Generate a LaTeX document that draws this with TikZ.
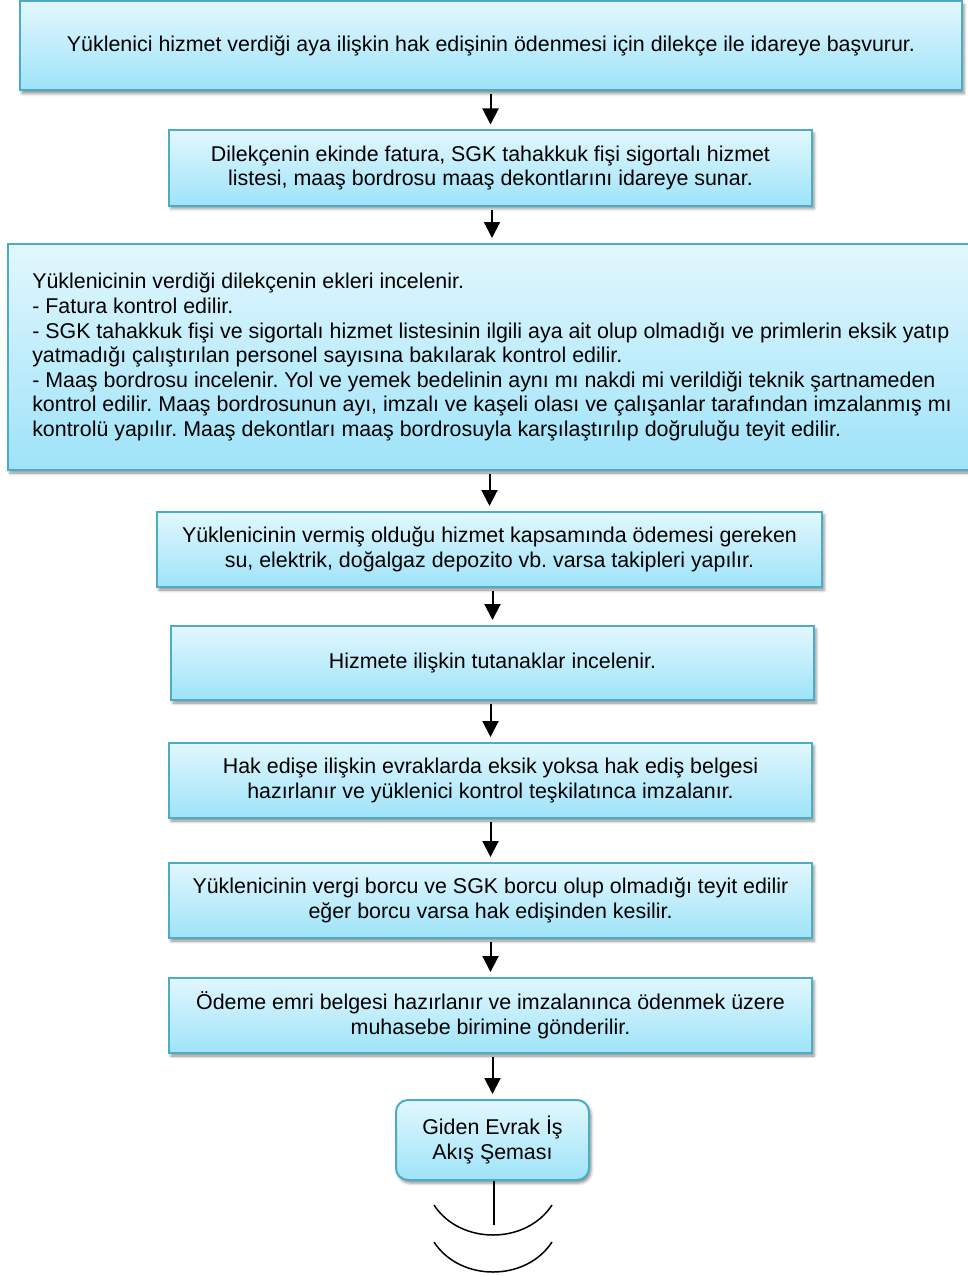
\documentclass[tikz,border=0pt]{standalone}
\usepackage{fontspec}
\setmainfont{Liberation Sans}
\usetikzlibrary{arrows.meta,shadows.blur}
\definecolor{boxline}{RGB}{75,172,198}
\definecolor{boxtop}{RGB}{226,247,253}
\definecolor{boxbot}{RGB}{158,227,249}
\frenchspacing
\begin{document}
\begin{tikzpicture}[x=1pt,y=-1pt,
box/.style={draw=boxline,line width=2pt,top color=boxtop,bottom color=boxbot,
blur shadow={shadow xshift=2pt,shadow yshift=-3pt,shadow blur radius=3pt,shadow opacity=45},
font=\fontsize{21.4}{24.6}\selectfont,align=center,inner sep=0pt,minimum width=643pt,minimum height=75pt},
arr/.style={-{Triangle[width=16pt,length=16pt]},line width=2pt,shorten <=3pt,shorten >=5pt}]
\useasboundingbox(0,0)rectangle(968,1276);
\node[box,minimum width=942pt,minimum height=89pt](b1)at(491,46){Yüklenici hizmet verdiği aya ilişkin hak edişinin ödenmesi için dilekçe ile idareye başvurur.};
\node[box](b2)at(490.5,168){Dilekçenin ekinde fatura, SGK tahakkuk fişi sigortalı hizmet\\listesi, maaş bordrosu maaş dekontlarını idareye sunar.};
\node[box,minimum width=968pt,minimum height=226pt,align=left](b3)at(492,357){Yüklenicinin verdiği dilekçenin ekleri incelenir.\\
- Fatura kontrol edilir.\\
- SGK tahakkuk fişi ve sigortalı hizmet listesinin ilgili aya ait olup olmadığı ve primlerin eksik yatıp\\
yatmadığı çalıştırılan personel sayısına bakılarak kontrol edilir.\\
- Maaş bordrosu incelenir. Yol ve yemek bedelinin aynı mı nakdi mi verildiği teknik şartnameden\\
kontrol edilir. Maaş bordrosunun ayı, imzalı ve kaşeli olası ve çalışanlar tarafından imzalanmış mı\\
kontrolü yapılır. Maaş dekontları maaş bordrosuyla karşılaştırılıp doğruluğu teyit edilir.};
\node[box,minimum width=665pt](b4)at(489.5,549.5){Yüklenicinin vermiş olduğu hizmet kapsamında ödemesi gereken\\su, elektrik, doğalgaz depozito vb. varsa takipleri yapılır.};
\node[box,minimum height=74pt](b5)at(492.5,663){Hizmete ilişkin tutanaklar incelenir.};
\node[box](b6)at(490.5,780.5){Hak edişe ilişkin evraklarda eksik yoksa hak ediş belgesi\\hazırlanır ve yüklenici kontrol teşkilatınca imzalanır.};
\node[box](b7)at(490.5,900.5){Yüklenicinin vergi borcu ve SGK borcu olup olmadığı teyit edilir\\eğer borcu varsa hak edişinden kesilir.};
\node[box](b8)at(490.5,1015.5){Ödeme emri belgesi hazırlanır ve imzalanınca ödenmek üzere\\muhasebe birimine gönderilir.};
\node[box,rounded corners=12pt,minimum width=193pt,minimum height=80pt](b9)at(492.5,1140){Giden Evrak İş\\Akış Şeması};
\foreach \a/\b in{b1/b2,b2/b3,b3/b4,b4/b5,b5/b6,b6/b7,b7/b8,b8/b9}
\draw[arr](\b.north|-\a.south)--(\b.north);
\coordinate(tail)at(494,1225);
\draw[line width=1.5pt](b9.south-|tail)--(tail);
\draw[line width=1.5pt](434,1205)..controls(460,1245)and(526,1245)..(552,1205);
\draw[line width=1.5pt](434,1242)..controls(460,1282)and(526,1282)..(552,1242);
\end{tikzpicture}
\end{document}
